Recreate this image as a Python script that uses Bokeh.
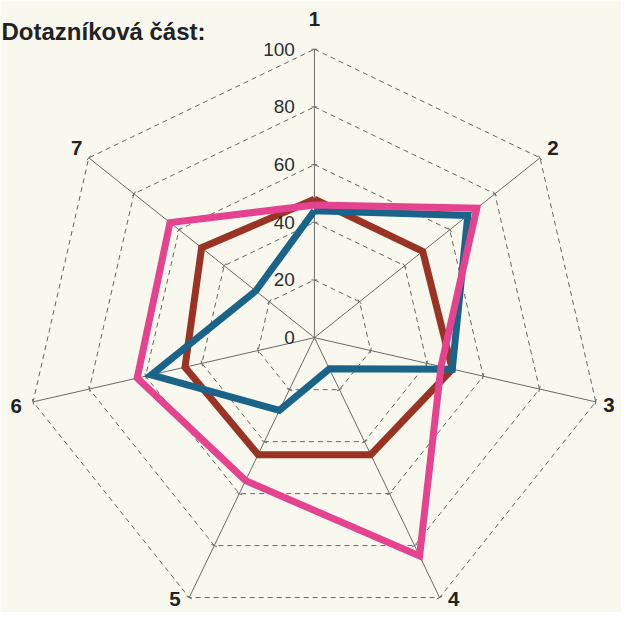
import numpy as np
from bokeh.plotting import figure
from bokeh.models import Range1d
from bokeh.core.properties import value
from bokeh.embed import file_html
from bokeh.resources import INLINE

# ---- data ----
axis_labels = ["1", "2", "3", "4", "5", "6", "7"]
grid_levels = [0, 20, 40, 60, 80, 100]
tick_labels = ["0", "20", "40", "60", "80", "100"]
series_blue = [44, 68, 49, 12, 28, 58, 26]
series_brown = [48, 48, 49, 45, 45, 46, 50]
series_pink = [46, 72, 45, 84, 55, 63, 64]
title_text = "Dotazníková část:"

# ---- geometry (reference-pixel coordinates, y flipped) ----
CX, CY = 322.0, -346.0
R = 296.0  # pixels for value 100
n = len(axis_labels)
ang = np.arange(n) * 2 * np.pi / n
dx, dy = np.sin(ang), np.cos(ang)

def pt(vals):
    v = np.asarray(vals, float) / 100.0 * R
    return CX + v * dx, CY + v * dy

W, H = 621, 612
p = figure(width=W, height=H, output_backend="svg", toolbar_location=None,
           x_range=Range1d(0, 637), y_range=Range1d(-628, 0),
           min_border=0)
p.axis.visible = False
p.grid.visible = False
p.outline_line_color = None
p.background_fill_color = "#f8f8ef"
p.border_fill_color = "#f8f8ef"

# dashed heptagons
for lv in grid_levels[1:]:
    xs, ys = pt([lv] * n)
    p.line(list(xs) + [xs[0]], list(ys) + [ys[0]], line_color="#666666",
           line_width=1, line_dash="5 4")

# spokes
xe, ye = pt([100] * n)
p.segment(x0=[CX] * n, y0=[CY] * n, x1=list(xe), y1=list(ye),
          line_color="#6a6a6a", line_width=1)

# small ticks on spokes
tx0, ty0, tx1, ty1 = [], [], [], []
for lv in grid_levels[1:]:
    xs, ys = pt([lv] * n)
    for i in range(n):
        px, py = -dy[i], dx[i]
        tx0.append(xs[i] - 3 * px); ty0.append(ys[i] - 3 * py)
        tx1.append(xs[i] + 3 * px); ty1.append(ys[i] + 3 * py)
p.segment(x0=tx0, y0=ty0, x1=tx1, y1=ty1, line_color="#6a6a6a", line_width=1)

# series
for vals, col in [(series_brown, "#9a3323"), (series_blue, "#1b6489"),
                  (series_pink, "#e5428f")]:
    xs, ys = pt(vals)
    p.line(list(xs) + [xs[0]], list(ys) + [ys[0]], line_color=col,
           line_width=7, line_join="miter")

# radial tick labels along axis 1
ly = [CY + lv / 100.0 * R for lv in grid_levels]
p.text(x=[CX - 20] * len(ly), y=ly, text=tick_labels, text_align="right",
       text_baseline="middle", text_font=value("Liberation Sans"),
       text_font_size="19px", text_color="#2e2e2e")

# axis labels (kept inside the frame)
lr = [327, 313, 310, 309, 309, 314, 312]
lx = [CX + r * dx[i] for i, r in enumerate(lr)]
lyy = [CY + r * dy[i] for i, r in enumerate(lr)]
lyy[3] = -614.0
lyy[4] = -614.0
lx[3] = 465.0
lx[4] = 179.0
lx[5] = 16.0
p.text(x=lx, y=lyy, text=axis_labels, text_align="center",
       text_baseline="middle", text_font=value("Liberation Sans"),
       text_font_style="bold", text_font_size="20.5px", text_color="#222222")

# title
p.text(x=[1], y=[-32], text=[title_text], text_align="left",
       text_baseline="alphabetic", text_font=value("Liberation Sans"),
       text_font_style="bold", text_font_size="24px", text_color="#222222")

open("out.html", "w").write(file_html(p, INLINE))
